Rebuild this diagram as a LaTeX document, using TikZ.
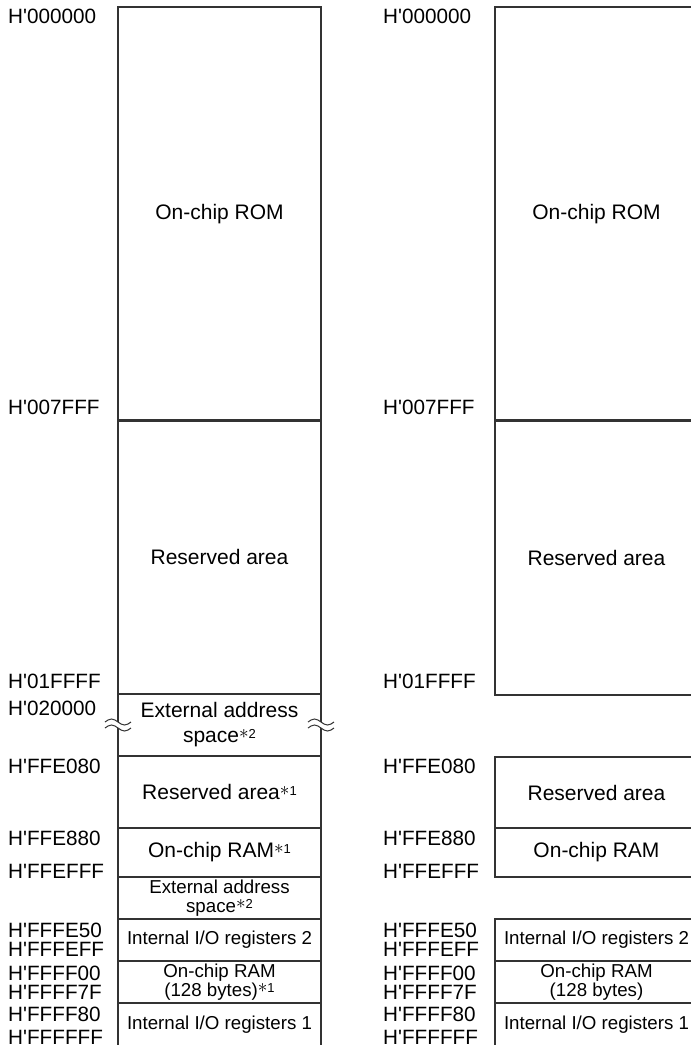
\documentclass[tikz,border=0pt]{standalone}
\usepackage{fontspec}
\setmainfont{Liberation Sans}
\usepackage{xcolor}
\usepackage{tikz}
\usetikzlibrary{positioning}
\definecolor{mapline}{HTML}{333333}

% prefijo hexadecimal con comilla recta
\newcommand{\hx}{H\textquotesingle}
% marca de nota tras el nombre del area
\newcommand{\fmark}[1]{\raisebox{4.5pt}{\fontsize{13}{13}\selectfont\raisebox{-0.5pt}{\scalebox{1.6}{$\ast$}}#1}}
% corte ondulado sobre un borde vertical
\newcommand{\brkmark}[2]{%
  \fill[white] (#1-2.5,#2) rectangle (#1+2.5,#2+6);
  \draw[wave] (#1-13,#2) sin (#1-6.5,#2-3) cos (#1,#2) sin (#1+6.5,#2+3) cos (#1+13,#2);
  \draw[wave] (#1-13,#2+6) sin (#1-6.5,#2+3) cos (#1,#2+6) sin (#1+6.5,#2+9) cos (#1+13,#2+6);}

\begin{document}
\begin{tikzpicture}[x=1pt, y=-1pt,
  mem/.style={draw=mapline, line width=1.2pt, outer sep=0pt, inner sep=0pt,
              minimum width=203pt, align=center,
              font=\fontsize{21}{25}\selectfont},
  smem/.style={mem, font=\fontsize{18.7}{19.5}\selectfont},
  addr/.style={anchor=base west, inner sep=0pt, font=\fontsize{20.7}{21}\selectfont},
  wave/.style={draw=mapline, line width=1pt}
]
  \clip (0,0) rectangle (691,1045);
  % mapa izquierdo
  \node[mem, minimum height=414pt] (rom)    at (219.5,214)  {On-chip ROM};
  \node[mem, minimum height=274pt] (rsv)    at (219.5,557)  {Reserved area};
  \node[mem, minimum height=62pt]  (ext)    at (219.5,725)  {External address\\space\fmark{2}};
  \node[mem, minimum height=72pt]  (rsvb)   at (219.5,792)  {Reserved area\fmark{1}};
  \node[mem, minimum height=49pt]  (ram)    at (219.5,852.5){On-chip RAM\fmark{1}};
  \node[smem, minimum height=42pt] (extb)   at (219.5,898)  {External address\\space\fmark{2}};
  \node[smem, minimum height=42pt] (io2)    at (219.5,940)  {Internal I/O registers 2};
  \node[smem, minimum height=42pt] (ram128) at (219.5,982)  {On-chip RAM\\(128 bytes)\fmark{1}};
  \node[smem, minimum height=44pt] (io1)    at (219.5,1025) {Internal I/O registers 1};
  % cortes del espacio externo
  \brkmark{118}{722}
  \brkmark{321}{722}
  % direcciones izquierdas
  \node[addr] (l000000) at (8,23)   {\hx000000};
  \node[addr] (l007fff) at (8,414)  {\hx007FFF};
  \node[addr] (l01ffff) at (8,688)  {\hx01FFFF};
  \node[addr] (l020000) at (8,715)  {\hx020000};
  \node[addr] (lffe080) at (8,773)  {\hx FFE080};
  \node[addr] (lffe880) at (8,845)  {\hx FFE880};
  \node[addr] (lffefff) at (8,878)  {\hx FFEFFF};
  \node[addr] (lfffe50) at (8,937)  {\hx FFFE50};
  \node[addr] (lfffeff) at (8,956)  {\hx FFFEFF};
  \node[addr] (lffff00) at (8,980)  {\hx FFFF00};
  \node[addr] (lffff7f) at (8,999)  {\hx FFFF7F};
  \node[addr] (lffff80) at (8,1021) {\hx FFFF80};
  \node[addr] (lffffff) at (8,1044) {\hx FFFFFF};
  % mapa derecho
  \node[mem, minimum height=414pt] (rrom)    at (596.5,214)  {On-chip ROM};
  \node[mem, minimum height=275pt] (rrsv)    at (596.5,557.5){Reserved area};
  \node[mem, minimum height=71pt]  (rrsvb)   at (596.5,792.5){Reserved area};
  \node[mem, minimum height=49pt]  (rram)    at (596.5,852.5){On-chip RAM};
  \node[smem, minimum height=42pt] (rio2)    at (596.5,940)  {Internal I/O registers 2};
  \node[smem, minimum height=42pt] (rram128) at (596.5,982)  {On-chip RAM\\(128 bytes)};
  \node[smem, minimum height=44pt] (rio1)    at (596.5,1025) {Internal I/O registers 1};
  % direcciones derechas
  \node[addr] (r000000) at (383,23)   {\hx000000};
  \node[addr] (r007fff) at (383,414)  {\hx007FFF};
  \node[addr] (r01ffff) at (383,688)  {\hx01FFFF};
  \node[addr] (rffe080) at (383,773)  {\hx FFE080};
  \node[addr] (rffe880) at (383,845)  {\hx FFE880};
  \node[addr] (rffefff) at (383,878)  {\hx FFEFFF};
  \node[addr] (rfffe50) at (383,937)  {\hx FFFE50};
  \node[addr] (rfffeff) at (383,956)  {\hx FFFEFF};
  \node[addr] (rffff00) at (383,980)  {\hx FFFF00};
  \node[addr] (rffff7f) at (383,999)  {\hx FFFF7F};
  \node[addr] (rffff80) at (383,1021) {\hx FFFF80};
  \node[addr] (rffffff) at (383,1044) {\hx FFFFFF};
\end{tikzpicture}
\end{document}
